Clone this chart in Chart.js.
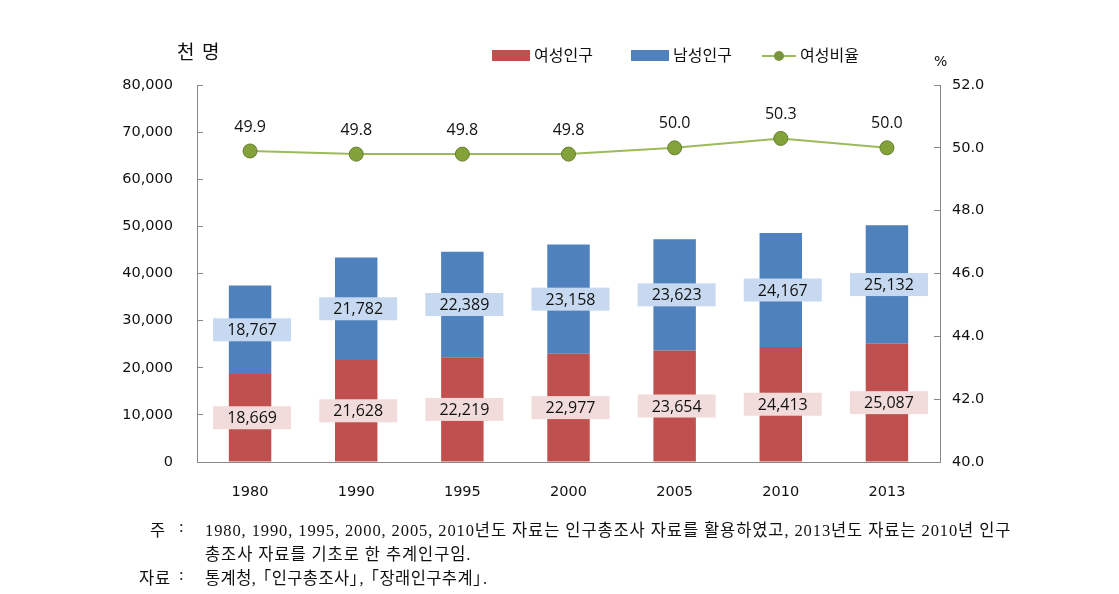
<!DOCTYPE html>
<html>
<head>
<meta charset="utf-8">
<script src="https://cdn.jsdelivr.net/npm/chart.js@4.4.1/dist/chart.umd.min.js"></script>
<style>
  body { margin: 0; background: #fff; }
  #wrap { position: relative; width: 1119px; height: 594px; }
  .note { position: absolute; font-family: "Liberation Serif", "Noto Sans CJK KR", serif; font-size: 16.5px; letter-spacing: 0.9px; color: #111; white-space: nowrap; }
  .ab { display: inline-block; margin-left: -6px; }
  .ci { display: inline-block; margin-right: -7px; }
</style>
</head>
<body>
<div id="wrap">
  <canvas id="myChart" width="1119" height="594"></canvas>
  <div class="note" style="left:150px; top:517px;">주</div>
  <div class="note" style="left:179px; top:517px;">:</div>
  <div class="note" style="left:205px; top:517px;">1980, 1990, 1995, 2000, 2005, 2010년도 자료는 인구총조사 자료를 활용하였고, 2013년도 자료는 2010년 인구</div>
  <div class="note" style="left:205px; top:541px;">총조사 자료를 기초로 한 추계인구임.</div>
  <div class="note" style="left:139px; top:565px;">자료</div>
  <div class="note" style="left:179px; top:565px;">:</div>
  <div class="note" style="left:205px; top:565px; letter-spacing:0.4px;">통계청, <span class="ab">「</span>인구총조사<span class="ci">」</span>, <span class="ab">「</span>장래인구추계<span class="ci">」</span>.</div>
</div>
<script>
const anios = ['1980', '1990', '1995', '2000', '2005', '2010', '2013'];
const mujeres = [18669, 21628, 22219, 22977, 23654, 24413, 25087];
const hombres = [18767, 21782, 22389, 23158, 23623, 24167, 25132];
const ratio = [49.9, 49.8, 49.8, 49.8, 50.0, 50.3, 50.0];

const fuente = '"DejaVu Sans", sans-serif';
const fuenteEtiqueta = '"Open Sans", "Noto Sans", sans-serif';

// etiquetas de datos con fondo
const etiquetas = {
    id: 'etiquetas',
    afterDatasetsDraw(chart) {
        const ctx = chart.ctx;
        ctx.save();
        ctx.textAlign = 'center';
        ctx.textBaseline = 'middle';
        ctx.font = '16px ' + fuenteEtiqueta;
        const fondos = ['#F2DCDB', '#C6D9F1'];
        [0, 1].forEach(i => {
            const meta = chart.getDatasetMeta(i);
            meta.data.forEach((bar, j) => {
                const valor = chart.data.datasets[i].data[j];
                const y = (bar.y + bar.base) / 2;
                ctx.fillStyle = fondos[i];
                ctx.fillRect(bar.x - 37, y - 11.5, 78, 23);
                ctx.fillStyle = '#111';
                ctx.fillText(valor.toLocaleString('en-US'), bar.x + 2, y + 1);
            });
        });
        const metaLinea = chart.getDatasetMeta(2);
        metaLinea.data.forEach((p, j) => {
            ctx.fillStyle = '#111';
            ctx.fillText(ratio[j].toFixed(1), p.x, p.y - 24);
        });
        ctx.restore();
    },
    afterDraw(chart) {
        const ctx = chart.ctx;
        ctx.save();
        ctx.textBaseline = 'middle';
        ctx.fillStyle = '#111';
        ctx.font = '19px "Noto Sans CJK KR", sans-serif';
        ctx.fillText('천', 177, 52);
        ctx.fillText('명', 202, 52);
        ctx.font = '14px ' + fuente;
        ctx.fillText('%', 934, 62);
        // leyenda
        ctx.font = '16px "Noto Sans CJK KR", sans-serif';
        ctx.fillStyle = '#C0504D';
        ctx.fillRect(492, 50, 38, 11);
        ctx.fillStyle = '#111';
        ctx.fillText('여성인구', 534, 55);
        ctx.fillStyle = '#4F81BD';
        ctx.fillRect(631, 50, 38, 11);
        ctx.fillStyle = '#111';
        ctx.fillText('남성인구', 673, 55);
        ctx.strokeStyle = '#9BBB59';
        ctx.lineWidth = 2;
        ctx.beginPath();
        ctx.moveTo(762, 56);
        ctx.lineTo(796, 56);
        ctx.stroke();
        ctx.fillStyle = '#77933C';
        ctx.beginPath();
        ctx.arc(779, 56, 5, 0, Math.PI * 2);
        ctx.fill();
        ctx.fillStyle = '#111';
        ctx.fillText('여성비율', 800, 55);
        ctx.restore();
    }
};

const ctx = document.getElementById('myChart');

const chart = new Chart(ctx, {
    data: {
        labels: anios,
        datasets: [
            {
                type: 'bar',
                label: '여성인구',
                data: mujeres,
                backgroundColor: '#C0504D',
                yAxisID: 'y',
                order: 2,
                barPercentage: 0.8,
                categoryPercentage: 0.5
            },
            {
                type: 'bar',
                label: '남성인구',
                data: hombres,
                backgroundColor: '#4F81BD',
                yAxisID: 'y',
                order: 2,
                barPercentage: 0.8,
                categoryPercentage: 0.5
            },
            {
                type: 'line',
                label: '여성비율',
                data: ratio,
                borderColor: '#9BBB59',
                borderWidth: 2,
                pointRadius: 7,
                pointBackgroundColor: '#83A23A',
                pointBorderColor: '#647E2C',
                pointBorderWidth: 1,
                yAxisID: 'y1',
                order: 1,
                tension: 0
            }
        ]
    },
    options: {
        responsive: false,
        animation: false,
        devicePixelRatio: 1,
        layout: { padding: { top: 85, left: 0, right: 0, bottom: 0 } },
        plugins: {
            legend: { display: false },
            tooltip: { enabled: false }
        },
        scales: {
            x: {
                stacked: true,
                grid: { display: false },
                border: { display: true, color: '#888', width: 1 },
                ticks: { color: '#111', padding: 14, font: { family: fuente, size: 14.5 } },
                afterFit: s => { s.height = 132; }
            },
            y: {
                stacked: true,
                min: 0,
                max: 80000,
                position: 'left',
                ticks: {
                    stepSize: 10000,
                    color: '#111',
                    padding: 30,
                    font: { family: fuente, size: 14.5 },
                    callback: v => v.toLocaleString('en-US')
                },
                grid: { drawOnChartArea: false, drawTicks: true, tickLength: -6, color: '#888' },
                border: { display: true, color: '#888', width: 1 },
                afterFit: s => { s.width = 197; }
            },
            y1: {
                min: 40,
                max: 52,
                position: 'right',
                ticks: {
                    stepSize: 2,
                    color: '#111',
                    padding: 18,
                    font: { family: fuente, size: 14.5 },
                    callback: v => v.toFixed(1)
                },
                grid: { drawOnChartArea: false, drawTicks: true, tickLength: -6, color: '#888' },
                border: { display: true, color: '#888', width: 1 },
                afterFit: s => { s.width = 179; }
            }
        }
    },
    plugins: [etiquetas]
});
</script>
</body>
</html>
